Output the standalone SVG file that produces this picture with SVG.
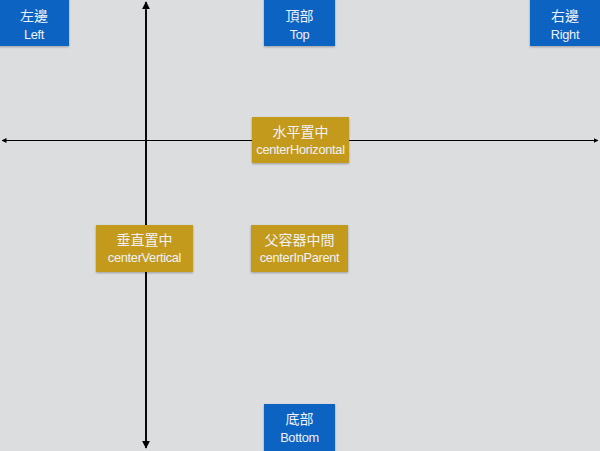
<svg xmlns="http://www.w3.org/2000/svg" width="600" height="451" viewBox="0 0 600 451">
<defs>
<style>
.blue{fill:#0B63C1;}
.gold{fill:#C49A1E;}
.sh{filter:url(#sh);}
text{font-family:"Helvetica Neue","Liberation Sans","Noto Sans CJK TC",sans-serif;font-size:14px;fill:#EEF2F8;text-anchor:middle;}
.en{font-size:12.8px;letter-spacing:-0.3px;}
.axis{stroke:#000;stroke-width:1.6;fill:none;}
</style>
<filter id="sh" x="-10%" y="-10%" width="130%" height="130%">
<feDropShadow dx="0" dy="1" stdDeviation="1" flood-color="#000" flood-opacity="0.3"/>
</filter>
<marker id="ah" viewBox="0 0 10 10" refX="9" refY="5" markerWidth="5" markerHeight="5" orient="auto" markerUnits="userSpaceOnUse">
<path d="M0,0 L10,5 L0,10 z" fill="#000"/>
</marker>
<marker id="ahv" viewBox="0 0 10 10" refX="9" refY="5" markerWidth="8" markerHeight="8" orient="auto" markerUnits="userSpaceOnUse">
<path d="M0,0 L10,5 L0,10 z" fill="#000"/>
</marker>
</defs>
<rect width="600" height="451" fill="#DCDDDF"/>
<g id="connectors">
<line class="axis" x1="146" y1="445" x2="146" y2="2" marker-end="url(#ahv)"/>
<line class="axis" x1="146" y1="10" x2="146" y2="448" marker-end="url(#ahv)"/>
<line x1="10" y1="140.5" x2="598" y2="140.5" stroke="#000" stroke-width="1" marker-end="url(#ah)"/>
<line x1="590" y1="140.5" x2="2" y2="140.5" stroke="#000" stroke-width="1" marker-end="url(#ah)"/>
</g>
<g id="left">
<rect class="blue sh" x="-2" y="-2" width="71" height="48"/>
<text x="34" y="21">左邊</text>
<text class="en" x="34" y="39">Left</text>
</g>
<g id="top">
<rect class="blue sh" x="264" y="-2" width="71" height="48"/>
<text x="299.5" y="21">頂部</text>
<text class="en" x="299.5" y="39">Top</text>
</g>
<g id="right">
<rect class="blue sh" x="530" y="-2" width="72" height="48"/>
<text x="565" y="21">右邊</text>
<text class="en" x="565" y="39">Right</text>
</g>
<g id="bottom">
<rect class="blue sh" x="264" y="404" width="71" height="49"/>
<text x="299.5" y="424">底部</text>
<text class="en" x="299.5" y="442">Bottom</text>
</g>
<g id="centerHorizontal">
<rect class="gold sh" x="252" y="117" width="97" height="46"/>
<text x="300.5" y="137">水平置中</text>
<text class="en" x="300.5" y="154">centerHorizontal</text>
</g>
<g id="centerVertical">
<rect class="gold sh" x="96" y="225" width="97" height="47"/>
<text x="144.5" y="245">垂直置中</text>
<text class="en" x="144.5" y="262">centerVertical</text>
</g>
<g id="centerInParent">
<rect class="gold sh" x="251" y="225" width="97" height="47"/>
<text x="299.5" y="245">父容器中間</text>
<text class="en" x="299.5" y="262">centerInParent</text>
</g>
</svg>
